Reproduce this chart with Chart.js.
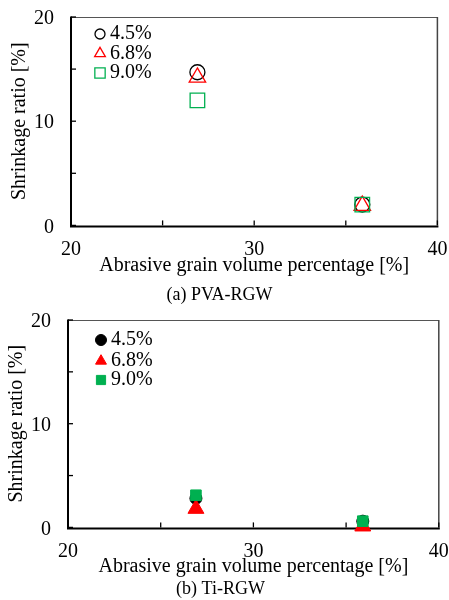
<!DOCTYPE html>
<html><head><meta charset="utf-8">
<script src="https://cdn.jsdelivr.net/npm/chart.js@4.4.1/dist/chart.umd.min.js"></script>
<style>
html,body{margin:0;padding:0;background:#fff;}
#wa{position:absolute;left:0;top:0;width:449px;height:306px;}
#wb{position:absolute;left:0;top:306px;width:449px;height:294px;}
</style></head><body>
<div id="wa"><canvas id="ca"></canvas></div>
<div id="wb"><canvas id="cb"></canvas></div>
<script>
// ---- data ----
const seriesLabels = ['4.5%', '6.8%', '9.0%'];
const abrasiveVolume = [26.9, 35.9];
const pva45 = [14.7, 2.0];
const pva68 = [14.2, 1.9];
const pva90 = [12.0, 2.0];
const ti45 = [2.8, 0.6];
const ti68 = [1.8, 0.1];
const ti90 = [3.1, 0.6];
const xTickLabels = ['20', '30', '40'];
const yTickLabels = ['0', '10', '20'];
const xTitle = 'Abrasive grain volume percentage [%]';
const yTitle = 'Shrinkage ratio [%]';
const captions = ['(a) PVA-RGW', '(b) Ti-RGW'];

const RED = '#FF0000', GREEN = '#00B050', BLACK = '#000000';
Chart.defaults.font.family = "'Liberation Serif', 'Times New Roman', serif";
Chart.defaults.color = '#000';

function pts(ys) { return ys.map((y, i) => ({x: abrasiveVolume[i], y: y})); }

function drawMarker(ctx, style, r, x, y, fill, stroke, bw) {
  ctx.save();
  ctx.fillStyle = fill; ctx.strokeStyle = stroke; ctx.lineWidth = bw;
  if (Chart.helpers && Chart.helpers.drawPoint) {
    Chart.helpers.drawPoint(ctx, {pointStyle: style, radius: r, rotation: 0, borderWidth: bw}, x, y);
  }
  ctx.restore();
}

const framePlugin = {
  id: 'frame',
  beforeDatasetsDraw(chart) {
    const {ctx, chartArea: a, scales} = chart;
    ctx.save();
    ctx.strokeStyle = '#555'; ctx.lineWidth = 1;
    ctx.beginPath(); ctx.moveTo(a.left, a.top + 0.5); ctx.lineTo(a.right, a.top + 0.5); ctx.stroke();
    ctx.lineWidth = 1.5; ctx.strokeStyle = '#444';
    ctx.beginPath(); ctx.moveTo(a.right, a.top); ctx.lineTo(a.right, a.bottom); ctx.stroke();
    ctx.strokeStyle = BLACK; ctx.lineWidth = 2;
    ctx.beginPath(); ctx.moveTo(a.left, a.top - 0.5); ctx.lineTo(a.left, a.bottom + 1); ctx.lineTo(a.right + 1, a.bottom + 1); ctx.stroke();
    ctx.lineWidth = 1.3;
    scales.y.ticks.forEach(t => {
      const py = scales.y.getPixelForValue(t.value);
      ctx.beginPath(); ctx.moveTo(a.left, py); ctx.lineTo(a.left + 5, py); ctx.stroke();
    });
    scales.x.ticks.forEach(t => {
      const px = scales.x.getPixelForValue(t.value);
      ctx.beginPath(); ctx.moveTo(px, a.bottom); ctx.lineTo(px, a.bottom - 5); ctx.stroke();
    });
    ctx.restore();
  }
};

const legendPlugin = {
  id: 'innerLegend',
  afterDraw(chart, args, opts) {
    const ctx = chart.ctx;
    ctx.save();
    chart.data.datasets.forEach((ds, i) => {
      const lx = opts.x, ly = opts.ys[i];
      drawMarker(ctx, ds.pointStyle, opts.radii[i], lx, ly, ds.pointBackgroundColor, ds.pointBorderColor, ds.pointBorderWidth);
      ctx.fillStyle = '#000';
      ctx.font = "20px 'Liberation Serif', 'Times New Roman', serif";
      ctx.textAlign = 'left'; ctx.textBaseline = 'middle';
      ctx.fillText(ds.label, opts.tx, ly);
    });
    ctx.restore();
  }
};

function makeChart(id, seriesList, filled, cfg) {
  const styles = ['circle', 'triangle', 'rect'];
  const colors = [BLACK, RED, GREEN];
  const datasets = seriesList.map((s, i) => ({
    label: seriesLabels[i],
    data: pts(s),
    pointStyle: styles[i],
    pointRadius: cfg.radii[i],
    pointBorderColor: colors[i],
    pointBackgroundColor: filled ? colors[i] : 'rgba(0,0,0,0)',
    pointBorderWidth: filled ? 1 : 1.3,
    showLine: false,
    clip: false,
    order: 3 - i
  }));
  return new Chart(document.getElementById(id), {
    type: 'scatter',
    data: {datasets},
    plugins: [framePlugin, legendPlugin],
    options: {
      responsive: true, maintainAspectRatio: false, animation: false, devicePixelRatio: 1,
      layout: {padding: {left: 0, right: cfg.padRight, top: cfg.padTop, bottom: 0}},
      scales: {
        x: {
          type: 'linear', min: 20, max: 40,
          grid: {display: false, drawTicks: false, tickLength: 0}, border: {display: false},
          ticks: {stepSize: 5, autoSkip: false, maxRotation: 0, padding: cfg.xTickPad,
            font: {size: 20},
            callback: v => xTickLabels.includes(String(v)) ? String(v) : ''},
          title: {display: true, text: xTitle, font: {size: 20}, padding: {top: 0, bottom: 0}},
          afterFit: s => { s.height = cfg.xHeight; s.paddingLeft = 0; s.paddingRight = 0; }
        },
        y: {
          type: 'linear', min: 0, max: 20,
          grid: {display: false, drawTicks: false, tickLength: 0}, border: {display: false},
          ticks: {stepSize: 5, autoSkip: false, padding: cfg.yTickPad, labelOffset: 2, font: {size: 20},
            callback: v => yTickLabels.includes(String(v)) ? String(v) : ''},
          title: {display: true, text: yTitle, font: {size: 20}, padding: {top: cfg.yTitlePad, bottom: 0}},
          afterFit: s => { s.width = cfg.yWidth; s.paddingTop = 0; s.paddingBottom = 0; }
        }
      },
      plugins: {
        legend: {display: false},
        tooltip: {enabled: false},
        title: {display: true, text: cfg.caption, position: 'bottom', color: '#000',
          font: {size: 18, weight: 'normal'}, padding: {top: cfg.capPad, bottom: 0}},
        innerLegend: {x: cfg.legX, tx: cfg.legTx, ys: cfg.legYs, radii: cfg.legRadii}
      }
    }
  });
}

makeChart('ca', [pva45, pva68, pva90], false, {
  radii: [7.5, 9.5, 10.3], padRight: 10, padTop: 17, xTickPad: 12, yTickPad: 17,
  xHeight: 52, yWidth: 71, yTitlePad: 8, caption: captions[0], capPad: 7,
  legX: 100, legTx: 110, legYs: [34, 53.5, 73], legRadii: [5, 6.2, 7.3]
});
makeChart('cb', [ti45, ti68, ti90], true, {
  radii: [6, 9.2, 7.5], padRight: 8, padTop: 14, xTickPad: 12, yTickPad: 17,
  xHeight: 51, yWidth: 68, yTitlePad: 5, caption: captions[1], capPad: 0,
  legX: 101, legTx: 111, legYs: [34, 55, 74], legRadii: [5.5, 6.3, 6.5]
});
</script>
</body></html>
